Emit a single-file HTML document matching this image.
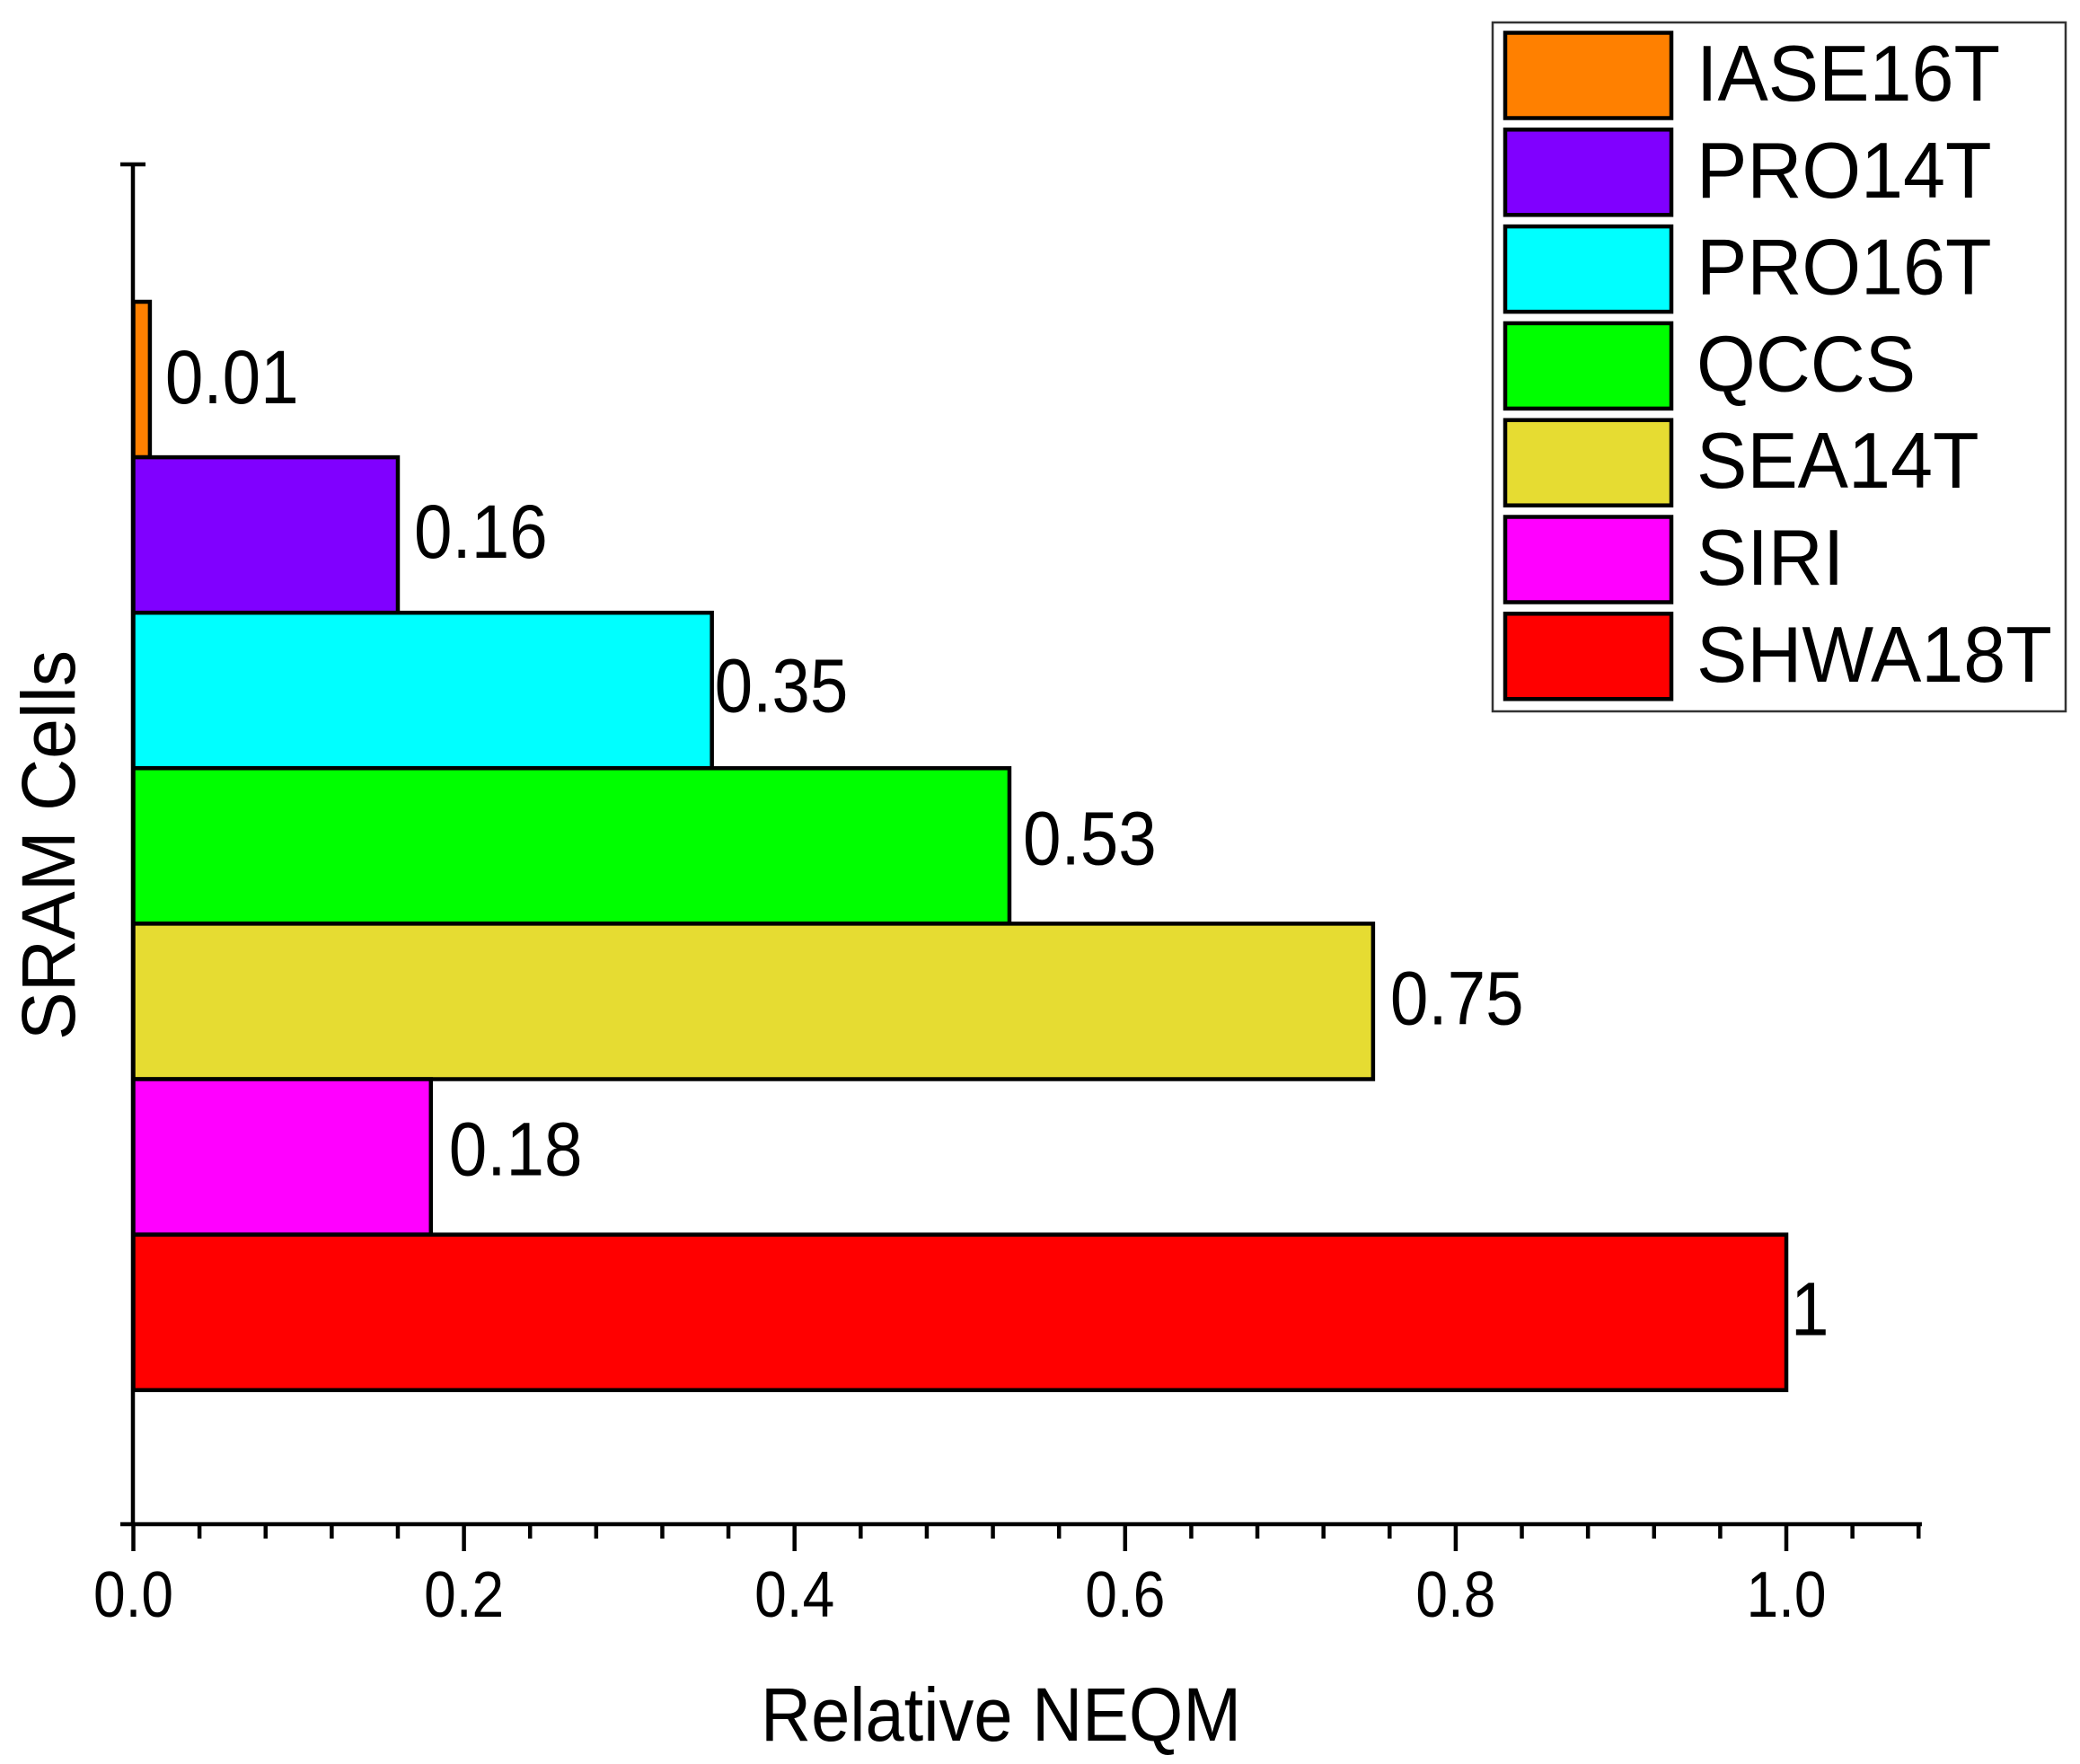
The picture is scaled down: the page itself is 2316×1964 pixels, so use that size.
<!DOCTYPE html>
<html lang="en">
<head>
<meta charset="utf-8">
<title>Relative NEQM of SRAM Cells</title>
<style>
html,body{margin:0;padding:0;background:#fff;}
svg{display:block;}
text{font-family:"Liberation Sans",Arial,sans-serif;fill:#000;}
</style>
</head>
<body>
<svg id="chart" xmlns="http://www.w3.org/2000/svg" width="2316" height="1964" viewBox="0 0 2316 1964">
  <rect x="0" y="0" width="2316" height="1964" fill="#fff"/>
  <g id="bars"></g>
  <g id="value-labels"></g>
  <g id="axes"></g>
  <text x="847" y="1938" font-size="84" textLength="535" lengthAdjust="spacingAndGlyphs">Relative NEQM</text>
  <text transform="translate(83 1158) rotate(-90)" x="0" y="0" font-size="84" textLength="434" lengthAdjust="spacingAndGlyphs">SRAM Cells</text>
  <g id="legend">
    <rect x="1662" y="25" width="638" height="767" fill="#fff" stroke="#333" stroke-width="2.5"/>
  </g>
</svg>
<script>
const categories = ['IASE16T', 'PRO14T', 'PRO16T', 'QCCS', 'SEA14T', 'SIRI', 'SHWA18T'];
const values = [0.01, 0.16, 0.35, 0.53, 0.75, 0.18, 1];
const valueLabels = ['0.01', '0.16', '0.35', '0.53', '0.75', '0.18', '1'];
const majorTicks = [0, 0.2, 0.4, 0.6, 0.8, 1.0];
const tickLabels = ['0.0', '0.2', '0.4', '0.6', '0.8', '1.0'];
const minorTicks = [0.04, 0.08, 0.12, 0.16, 0.24, 0.28, 0.32, 0.36, 0.44, 0.48, 0.52, 0.56, 0.64, 0.68, 0.72, 0.76, 0.84, 0.88, 0.92, 0.96, 1.04, 1.08];
const fills = ['#ff8000', '#8000ff', '#00ffff', '#00ff00', '#e6dc32', '#ff00ff', '#ff0000'];

const SVG_NS = 'http://www.w3.org/2000/svg';
const X0 = 148.5, X_UNIT = 1840.5, X_MAX = 1.082;
const AXIS_Y = 1697, AXIS_TOP = 183;
const BAR_TOP = 336, BAR_BAND = 173.1;
const STROKE = 4.5;

function xScale(v) { return X0 + v * X_UNIT; }
function yBand(i) { return BAR_TOP + i * BAR_BAND; }

function make(tag, attrs, parent, content) {
  const el = document.createElementNS(SVG_NS, tag);
  for (const k in attrs) el.setAttribute(k, attrs[k]);
  if (content !== undefined) el.textContent = content;
  parent.appendChild(el);
  return el;
}

const barsG = document.getElementById('bars');
const labelsG = document.getElementById('value-labels');
const axesG = document.getElementById('axes');
const legendG = document.getElementById('legend');

function labelNudge(i) {
  const gaps = [17, 18, 3, 15, 19, 20, 5];
  const drops = [26.5, 25.5, 23.5, 20.5, 25.5, 20.5, 25.5];
  return { gap: gaps[i], drop: drops[i] };
}

values.forEach(function (v, i) {
  const bar = make('rect', {
    x: X0,
    y: yBand(i),
    width: xScale(v) - X0,
    height: BAR_BAND,
    fill: fills[i],
    stroke: '#000',
    'stroke-width': STROKE
  }, barsG);
  
  

  const nudge = labelNudge(i);
  const lx = xScale(v) + nudge.gap;
  const ly = yBand(i) + BAR_BAND / 2 + nudge.drop;
  const label = make('text', {
    transform: 'translate(' + lx + ' ' + ly + ') scale(0.91 1)',
    x: 0,
    y: 0,
    'font-size': 84
  }, labelsG, valueLabels[i]);
  
  
});

const yAxis = make('line', { x1: 148, y1: AXIS_TOP, x2: 148, y2: AXIS_Y, stroke: '#000', 'stroke-width': STROKE }, axesG);



const yTopTick = make('line', { x1: 134, y1: AXIS_TOP, x2: 162, y2: AXIS_TOP, stroke: '#000', 'stroke-width': STROKE }, axesG);



const xAxis = make('line', { x1: 134, y1: AXIS_Y, x2: xScale(X_MAX), y2: AXIS_Y, stroke: '#000', 'stroke-width': STROKE }, axesG);



minorTicks.forEach(function (t) {
  const tick = make('line', { x1: xScale(t), y1: AXIS_Y, x2: xScale(t), y2: AXIS_Y + 16, stroke: '#000', 'stroke-width': STROKE }, axesG);
  
  
});

majorTicks.forEach(function (t, i) {
  const tick = make('line', { x1: xScale(t), y1: AXIS_Y, x2: xScale(t), y2: AXIS_Y + 30, stroke: '#000', 'stroke-width': STROKE }, axesG);
  
  

  const label = make('text', {
    transform: 'translate(' + xScale(t) + ' 1800) scale(0.89 1)',
    x: 0,
    y: 0,
    'text-anchor': 'middle',
    'font-size': 72
  }, axesG, tickLabels[i]);
  
  
});

categories.forEach(function (name, i) {
  const cy = 84 + i * 107.8;
  const swatch = make('rect', {
    x: 1676,
    y: cy - 47.5,
    width: 185,
    height: 95,
    fill: fills[i],
    stroke: '#000',
    'stroke-width': STROKE
  }, legendG);
  
  

  const text = make('text', {
    transform: 'translate(1889 ' + (cy + 28) + ') scale(0.96 1)',
    x: 0,
    y: 0,
    'font-size': 88
  }, legendG, name);
  
  
});
</script>
</body>
</html>
